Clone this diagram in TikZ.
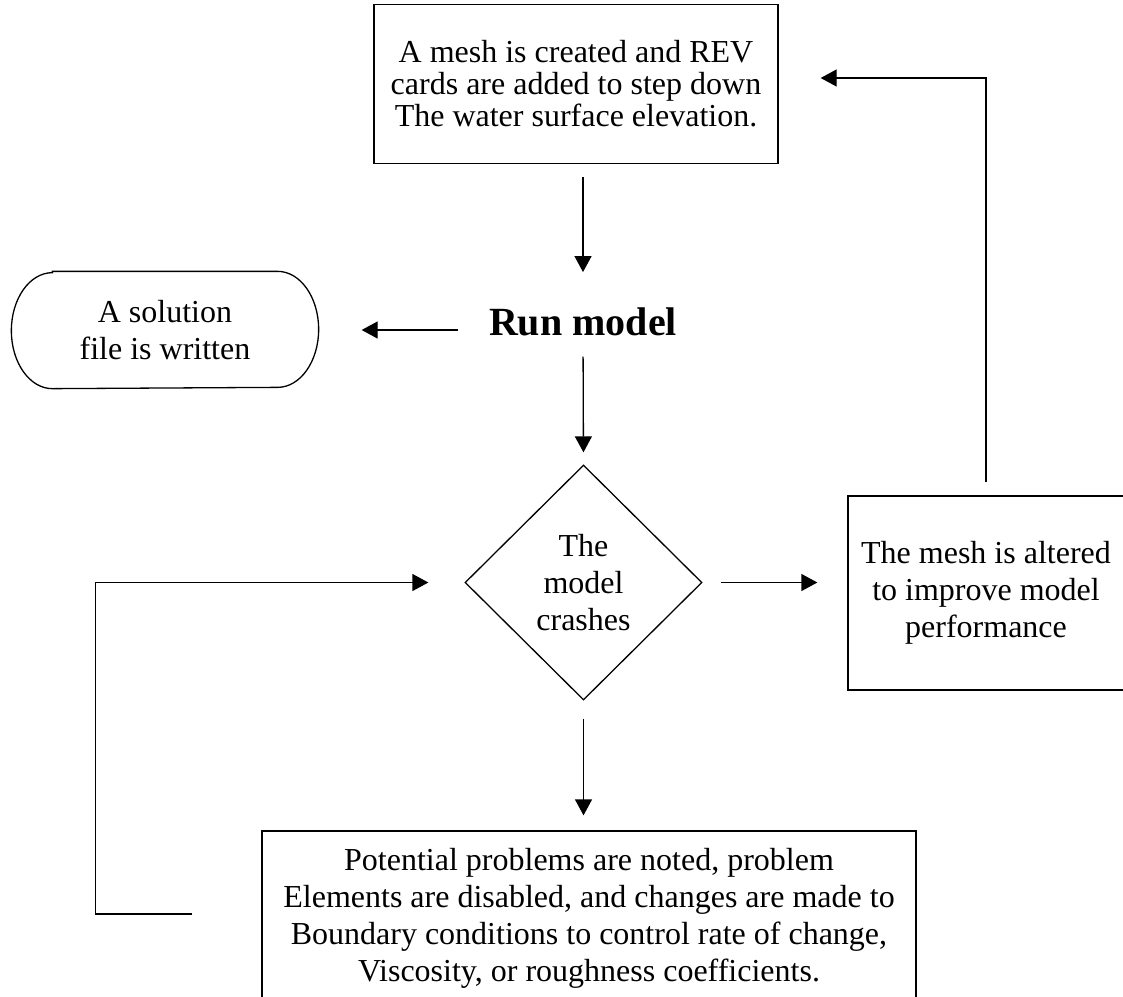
\documentclass[tikz,border=0pt]{standalone}
\usepackage{fontspec}
\setmainfont{Liberation Serif}
\usetikzlibrary{shapes.geometric}
\usetikzlibrary{arrows.meta}

\begin{document}
\begin{tikzpicture}[x=1pt,y=-1pt,
		flowbox/.style={draw, line width=1.3pt, inner sep=0pt, align=center, font=\fontsize{32pt}{37pt}\selectfont},
		flowline/.style={draw, line width=1.3pt, -{Triangle[length=16pt,width=17pt]}}]
	\useasboundingbox (0,0) rectangle (1123,996);
	\clip (0,0) rectangle (1123,996);
	% boxes
	\node[flowbox, minimum width=404pt, minimum height=159pt, font=\fontsize{32pt}{32pt}\selectfont] (mesh) at (576,84) {A mesh is created and REV\\cards are added to step down\\The water surface elevation.};
	\node[inner sep=0pt, anchor=base, font=\fontsize{40pt}{40pt}\selectfont\bfseries] (run) at (583,335) {Run model};
	\node[flowbox, draw=none, minimum width=306pt, minimum height=116pt] (sol) at (165,330) {A solution\\file is written};
	\draw[line width=1.3pt] ([xshift=41pt]sol.north west) -- ([xshift=-41pt]sol.north east) arc[start angle=90, end angle=-90, x radius=41pt, y radius=58pt] -- ([xshift=41pt]sol.south west) arc[start angle=270, end angle=90, x radius=41pt, y radius=58pt] -- cycle;
	\node[flowbox, shape=diamond, minimum width=237pt, minimum height=235pt] (crash) at (583.5,582.5) {The\\model\\crashes};
	\node[flowbox, minimum width=276pt, minimum height=194pt] (alter) at (986,593) {The mesh is altered\\to improve model\\performance};
	\node[flowbox, minimum width=654pt, minimum height=174pt] (fix) at (589,918) {Potential problems are noted, problem\\Elements are disabled, and changes are made to\\Boundary conditions to control rate of change,\\Viscosity, or roughness coefficients.};
	% arrows
	\draw[flowline, shorten <=13pt, shorten >=35pt] (mesh.south -| run.north) -- (run.north);
	\draw[flowline, shorten <=31pt, shorten >=43pt] (run.west |- sol.east) -- (sol.east);
	\draw[flowline, shorten <=21pt, shorten >=12pt] (run.south) -- (crash.north);
	\draw[flowline, shorten <=18pt, shorten >=30pt] (crash.east) -- (crash.east -| alter.west);
	\draw[flowline, shorten <=18pt, shorten >=15pt] (crash.south) -- (crash.south |- fix.north);
	\draw[flowline, shorten <=13pt, shorten >=42pt] (alter.north) |- ([yshift=6pt]mesh.east);
	\draw[flowline, shorten <=69pt, shorten >=36pt] ([yshift=4pt]fix.west) -- +(-166,0) |- (crash.west);
\end{tikzpicture}
\end{document}
